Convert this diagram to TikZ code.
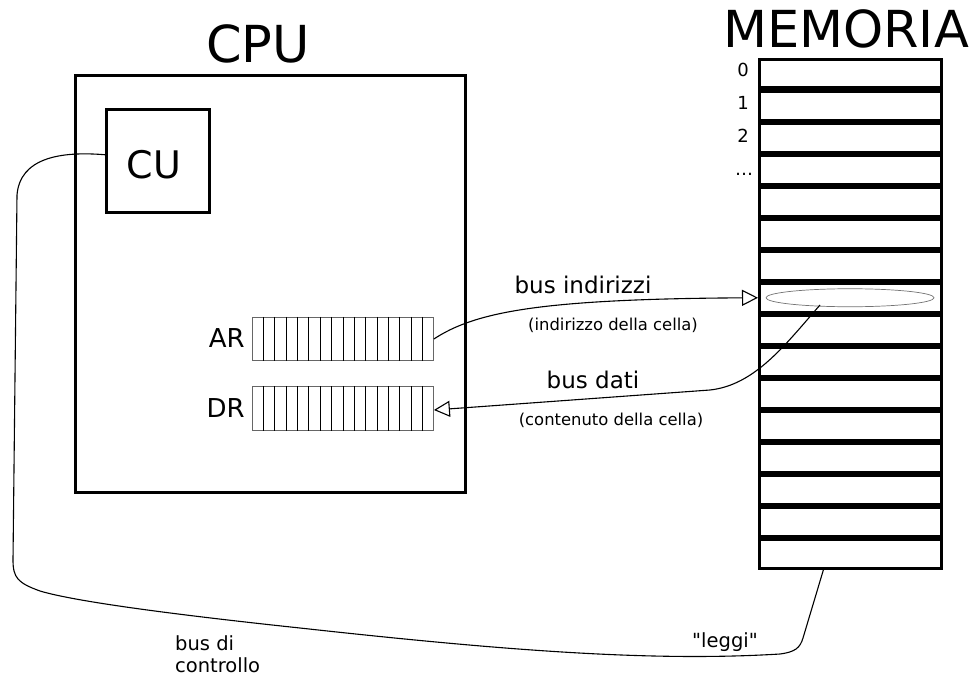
\documentclass[tikz,border=0pt]{standalone}
\usepackage{fontspec}
\setmainfont{DejaVu Sans}
\newfontfamily\plainfont{DejaVu Sans}
\usetikzlibrary{arrows.meta,shapes.geometric,calc}
\begin{document}
\begin{tikzpicture}[x=1pt,y=-1pt,
  lbl/.style={inner sep=0pt,anchor=base},
  box/.style={draw,line width=3pt,inner sep=0pt},
  memcell/.style={draw,line width=3pt,minimum width=182pt,minimum height=28.5pt,inner sep=0pt},
  reg/.style={draw=black!60,line width=0.8pt,minimum width=181pt,minimum height=43.5pt,inner sep=0pt},
  bus/.style={line width=1.1pt},
  openarrow/.style={-{Triangle[open,length=16pt,width=16pt,line width=1.1pt]}}]
\useasboundingbox (0,0) rectangle (972,677);
% CPU
\node[box,minimum width=389.5pt,minimum height=416.5pt] (cpu) at (270.25,283.75) {};
\node[lbl,font=\fontsize{51}{51}\selectfont] (cpulbl) at (258,63) {CPU};
\node[box,minimum width=103pt,minimum height=103.5pt] (CU) at (158,160.75) {};
\node[lbl,font=\fontsize{38}{38}\selectfont] (culbl) at (154,178) {CU};
% registers
\node[reg] (AR) at (343,339) {};
\node[reg] (DR) at (343,408.5) {};
\foreach \r in {AR,DR}{
  \foreach \k in {1,...,15}{
    \draw[line width=0.9pt] ($(\r.north west)!\k/16!(\r.north east)$) -- ($(\r.south west)!\k/16!(\r.south east)$);
  }
}
\node[lbl,anchor=base east,font=\fontsize{26}{26}\selectfont] (arlbl) at (245,347) {AR};
\node[lbl,anchor=base east,font=\fontsize{26}{26}\selectfont] (drlbl) at (245,417) {DR};
% memory
\node[lbl,font=\fontsize{51}{51}\selectfont] (memlbl) at (846,48) {MEMORIA};
\foreach \k in {0,...,15}{
  \node[memcell] (m\k) at (850.5,{73.75+32*\k}) {};
}
\node[lbl,font=\fontsize{18}{18}\selectfont] (n0) at (743,77) {0};
\node[lbl,font=\fontsize{18}{18}\selectfont] (n1) at (743,110) {1};
\node[lbl,font=\fontsize{18}{18}\selectfont] (n2) at (743,142) {2};
\node[lbl,font=\fontsize{18}{18}\selectfont] (n3) at (744,175) {\dots};
\node[ellipse,draw=black!55,line width=0.7pt,minimum width=168pt,minimum height=18pt,inner sep=0pt] (sel) at (850,297.75) {};
% bus indirizzi
\draw[bus,openarrow] (AR.east) .. controls (475,312) and (540,299) .. (m7.west);
\node[lbl,font=\fontsize{23}{23}\selectfont] (bi) at (583,293) {bus indirizzi};
\node[lbl,font=\fontsize{16.4}{16.4}\selectfont] (bic) at (613,330) {(indirizzo della cella)};
% bus dati
\coordinate (dstart) at (820,305);
\draw[bus,openarrow] (dstart) .. controls (785,345) and (755,385) .. (710,390) -- ($(DR.east)+(0,1.5)$);
\node[lbl,font=\fontsize{23}{23}\selectfont] (bd) at (593,388) {bus dati};
\node[lbl,font=\fontsize{16.4}{16.4}\selectfont] (bdc) at (611,425) {(contenuto della cella)};
% bus di controllo
\coordinate (memb) at ($(m15.south)+(-27,0)$);
\draw[bus] ($(CU.west)+(0,-6)$) .. controls (60,151) and (20,158) .. (17,195)
  -- (13,560) .. controls (13,578) and (18,583) .. (40,591)
  .. controls (70,600) and (150,612) .. (300,628)
  .. controls (500,650) and (650,662) .. (780,654)
  .. controls (795,652) and (800,648) .. (803,638) -- (memb);
\node[lbl,anchor=base west,font=\fontsize{19.5}{19.5}\selectfont] (bc1) at (175,650) {bus di};
\node[lbl,anchor=base west,font=\fontsize{19.5}{19.5}\selectfont] (bc2) at (175,672) {controllo};
\node[lbl,font=\plainfont\fontsize{19.5}{19.5}\selectfont] (leggi) at (725,647) {"leggi"};
\end{tikzpicture}
\end{document}
